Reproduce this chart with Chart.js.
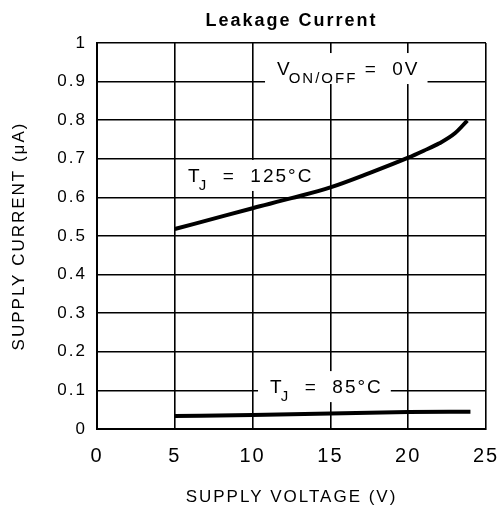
<!DOCTYPE html>
<html>
<head>
<meta charset="utf-8">
<script src="https://cdn.jsdelivr.net/npm/chart.js@4/dist/chart.umd.min.js"></script>
<style>
  html, body { margin: 0; padding: 0; background: #fff; }
</style>
</head>
<body>
<canvas id="leakChart" width="498" height="508"></canvas>
<script>
// values
const voltage125 = [5, 7.5, 10, 12.5, 15, 17.5, 20, 21, 22, 23, 23.8];
const current125 = [0.518, 0.545, 0.572, 0.598, 0.626, 0.663, 0.703, 0.721, 0.74, 0.766, 0.799];
const voltage85 = [5, 10, 15, 20, 24];
const current85 = [0.034, 0.036, 0.04, 0.044, 0.045];

// in-plot notes: main text, subscript, rest, anchor (data units)
const noteMain = ["V", "T", "T"];
const noteSub = ["ON/OFF", "J", "J"];
const noteRest = [" =  0V", "  =  125°C", "  =  85°C"];
const noteX = [11.57, 5.85, 11.12];
const noteY = [0.917, 0.64, 0.093];

const toPoints = (xs, ys) => xs.map((x, i) => ({ x: x, y: ys[i] }));

/* ===== plugin: spacing + notes with white boxes ===== */
const notesPlugin = {
  id: "notes",
  beforeLayout(chart) { chart.ctx.letterSpacing = "2px"; },
  beforeDraw(chart) { chart.ctx.letterSpacing = "2px"; },
  beforeDatasetsDraw(chart) {
    const ctx = chart.ctx;
    const xs = chart.scales.x, ys = chart.scales.y;
    const mainFont = "19px 'Liberation Sans', Arial, sans-serif";
    const subFont = "15px 'Liberation Sans', Arial, sans-serif";
    noteMain.forEach((m, i) => {
      const x0 = xs.getPixelForValue(noteX[i]);
      const base = ys.getPixelForValue(noteY[i]);
      ctx.save();
      ctx.letterSpacing = "2px";
      ctx.textBaseline = "alphabetic";
      ctx.font = mainFont;
      const wm = ctx.measureText(m).width;
      const wr = ctx.measureText(noteRest[i]).width;
      ctx.font = subFont;
      const ws = ctx.measureText(noteSub[i]).width;
      const total = wm - 3 + ws + wr;
      ctx.fillStyle = "#fff";
      ctx.fillRect(x0 - 12, base - 22, total + 20, 31);
      ctx.fillStyle = "#000";
      ctx.font = mainFont;
      ctx.fillText(m, x0, base);
      ctx.font = subFont;
      ctx.fillText(noteSub[i], x0 + wm - 3, base + 8);
      ctx.font = mainFont;
      ctx.fillText(noteRest[i], x0 + wm - 3 + ws, base);
      ctx.restore();
    });
  }
};

new Chart(document.getElementById("leakChart"), {
  type: "line",
  data: {
    datasets: [
      {
        label: "TJ = 125°C",
        data: toPoints(voltage125, current125),
        borderColor: "#000",
        borderWidth: 4,
        pointRadius: 0,
        cubicInterpolationMode: "monotone",
        fill: false
      },
      {
        label: "TJ = 85°C",
        data: toPoints(voltage85, current85),
        borderColor: "#000",
        borderWidth: 4,
        pointRadius: 0,
        cubicInterpolationMode: "monotone",
        fill: false
      }
    ]
  },
  options: {
    responsive: false,
    animation: false,
    layout: { padding: { left: 0, right: 12, top: 0, bottom: 0 } },
    plugins: {
      legend: { display: false },
      tooltip: { enabled: false },
      title: {
        display: true,
        text: "Leakage Current",
        color: "#000",
        fullSize: false,
        font: { family: "'Liberation Sans', Arial, sans-serif", size: 18, weight: "bold" },
        padding: { top: 10, bottom: 11.4 }
      }
    },
    scales: {
      x: {
        type: "linear",
        min: 0,
        max: 25,
        afterFit: s => { s.height = 79; s.paddingLeft = 0; s.paddingRight = 0; },
        ticks: {
          stepSize: 5,
          color: "#000",
          padding: 15,
          font: { family: "'Liberation Sans Narrow', 'Liberation Sans', sans-serif", size: 20 }
        },
        grid: { color: "#000", lineWidth: 1.6, drawTicks: false },
        border: { color: "#000", width: 2 },
        title: {
          display: true,
          text: "SUPPLY VOLTAGE (V)",
          color: "#000",
          padding: { top: 0, bottom: 0 },
          font: { family: "'Liberation Sans', Arial, sans-serif", size: 17 }
        }
      },
      y: {
        min: 0,
        max: 1,
        afterFit: s => { s.width = 97; },
        ticks: {
          stepSize: 0.1,
          color: "#000",
          padding: 10,
          font: { family: "'Liberation Sans', Arial, sans-serif", size: 17 },
          callback: v => String(Number(v.toFixed(1)))
        },
        grid: { color: "#000", lineWidth: 1.6, drawTicks: false },
        border: { color: "#000", width: 2 },
        title: {
          display: true,
          text: "SUPPLY CURRENT (μA)",
          color: "#000",
          padding: { top: 9, bottom: 0 },
          font: { family: "'Liberation Sans', Arial, sans-serif", size: 17 }
        }
      }
    }
  },
  plugins: [notesPlugin]
});
</script>
</body>
</html>
